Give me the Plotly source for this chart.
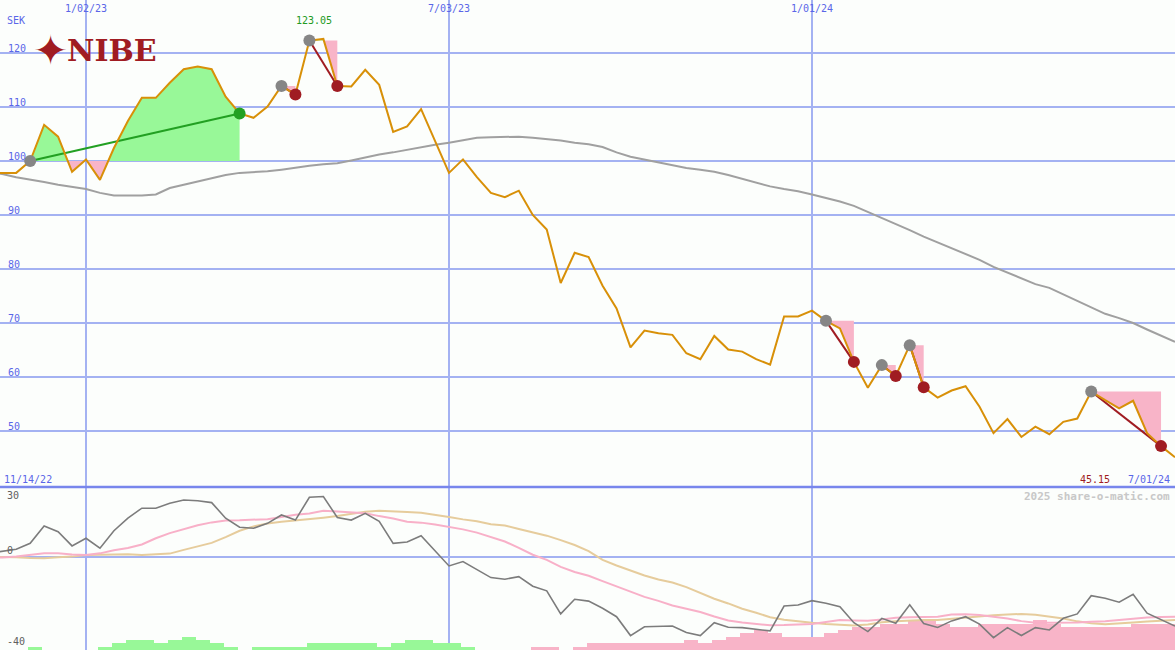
import plotly.graph_objects as go
import pandas as pd

# ---------------- data ----------------
dates = pd.date_range("2022-11-14", periods=86, freq="7D")

price = [97.8, 97.8, 97.8, 100.0, 106.7, 104.5, 98.0, 100.3, 96.5, 102.4,
         107.4, 111.7, 111.7, 114.5, 117.0, 117.5, 117.0, 111.9, 108.8, 108.0,
         110.1, 113.9, 112.3, 122.3, 122.6, 113.9, 113.8, 116.9, 114.1, 105.4,
         106.4, 109.6, 103.8, 97.8, 100.3, 97.0, 94.1, 93.3, 94.5, 90.0,
         87.3, 77.4, 83.0, 82.2, 76.9, 72.7, 65.5, 68.6, 68.1, 67.8,
         64.4, 63.3, 67.6, 65.1, 64.7, 63.3, 62.3, 71.2, 71.2, 72.3,
         70.4, 69.0, 62.8, 58.0, 62.2, 60.2, 65.9, 58.1, 56.2, 57.5,
         58.3, 54.5, 49.6, 52.2, 48.9, 50.8, 49.4, 51.7, 52.3, 57.3,
         55.7, 54.2, 55.6, 49.6, 47.2, 45.15]

ma_long = [97.8, 97.6, 97.0, 96.6, 96.1, 95.6, 95.2, 94.8, 94.1, 93.6,
           93.6, 93.6, 93.8, 95.0, 95.6, 96.2, 96.7, 97.4, 97.8, 97.9,
           98.1, 98.4, 98.8, 99.1, 99.4, 99.6, 100.1, 100.7, 101.2, 101.6,
           102.1, 102.5, 103.0, 103.4, 103.9, 104.3, 104.4, 104.5, 104.5, 104.3,
           104.1, 103.8, 103.4, 103.1, 102.6, 101.6, 100.8, 100.3, 99.8, 99.2,
           98.7, 98.4, 98.0, 97.4, 96.7, 96.0, 95.3, 94.8, 94.4, 93.8,
           93.2, 92.5, 91.7, 90.6, 89.5, 88.4, 87.2, 86.0, 84.9, 83.8,
           82.8, 81.7, 80.4, 79.3, 78.2, 77.2, 76.5, 75.3, 74.2, 72.9,
           71.7, 70.9, 70.0, 68.8, 67.7, 66.5]

osc = [1.5, 2.3, 3.3, 5.8, 13.3, 10.8, 4.7, 8.0, 3.7, 11.2,
       16.6, 20.9, 20.9, 23.0, 24.4, 24.1, 23.3, 16.6, 12.7, 12.3,
       14.4, 18.0, 15.8, 25.6, 25.9, 16.9, 15.8, 18.7, 15.3, 5.8,
       6.4, 9.1, 2.7, -3.9, -2.0, -5.3, -8.9, -9.6, -8.5, -12.6,
       -14.6, -24.5, -18.2, -19.0, -22.1, -25.7, -33.8, -30.0, -29.8, -29.7,
       -32.5, -33.8, -28.3, -30.2, -30.4, -31.1, -31.8, -21.1, -20.7, -18.8,
       -19.9, -21.4, -28.3, -32.1, -26.4, -28.5, -20.6, -28.6, -30.3, -27.5,
       -25.7, -28.9, -34.7, -30.4, -33.8, -30.4, -31.4, -26.4, -24.5, -16.7,
       -17.8, -19.5, -16.1, -24.2, -27.1, -29.7]

osc_fast = [-0.3, -0.3, 0.2, 0.7, 1.5, 1.6, 1.0, 0.8, 1.5, 2.8,
            3.8, 5.3, 8.0, 10.2, 11.9, 13.6, 14.8, 15.6, 15.7, 15.8,
            16.2, 17.1, 18.1, 18.6, 19.8, 19.5, 19.0, 18.7, 17.5, 16.5,
            15.1, 14.7, 13.9, 13.0, 11.8, 10.4, 8.5, 6.6, 3.9, 0.9,
            -1.3, -4.3, -6.5, -8.1, -10.4, -12.6, -14.7, -17.2, -18.9, -20.9,
            -22.3, -23.7, -25.6, -27.3, -28.2, -28.8, -29.4, -29.3, -29.1, -28.8,
            -28.0, -27.1, -27.3, -27.4, -26.9, -26.2, -25.9, -25.7, -25.7, -24.8,
            -24.6, -25.0, -25.7, -26.5, -27.6, -28.3, -28.3, -28.3, -28.2, -27.9,
            -27.7, -27.1, -26.4, -26.0, -25.8, -25.7]

osc_slow = [0.1, 0.1, -0.2, -0.5, -0.6, -0.2, 0.1, 0.8, 1.0, 1.2,
            1.1, 0.8, 1.0, 1.4, 3.0, 4.5, 6.0, 8.5, 11.2, 13.1,
            14.3, 15.1, 15.6, 16.0, 16.8, 17.5, 18.5, 19.4, 19.8, 19.7,
            19.3, 18.9, 18.1, 17.1, 16.1, 15.3, 14.0, 13.5, 12.0, 10.6,
            9.1, 7.2, 5.1, 2.5, -1.3, -3.7, -6.0, -8.0, -9.7, -11.0,
            -13.0, -15.6, -18.0, -20.0, -22.3, -24.0, -25.9, -27.0, -27.8, -28.3,
            -28.8, -29.2, -29.5, -29.0, -28.1, -27.6, -27.2, -27.1, -27.1, -26.6,
            -25.9, -25.4, -25.1, -24.8, -24.5, -24.9, -25.6, -26.5, -27.7, -28.5,
            -28.9, -28.7, -28.2, -27.8, -27.4, -27.1]

bar_level = [0, 0, 0, 1, 0, 0, 0, 0, 1, 2,
             3, 3, 2, 3, 4, 3, 2, 1, 0, 1,
             1, 1, 1, 2, 2, 2, 2, 2, 1, 2,
             3, 3, 2, 2, 1, 0, 0, 0, 0, -1,
             -1, 0, -1, -2, -2, -2, -2, -2, -2, -2,
             -3, -2, -3, -4, -5, -6, -5, -4, -4, -4,
             -5, -6, -7, -7, -8, -8, -9, -9, -8, -7,
             -7, -8, -8, -8, -8, -9, -8, -7, -7, -7,
             -7, -7, -8, -8, -8, -8]

# trades: (entry week index, exit week index)
trades = [(3, 18), (21, 22), (23, 25), (60, 62), (64, 65), (66, 67), (79, 84)]

price_ticks = [50, 60, 70, 80, 90, 100, 110, 120]
date_ticks = ["2023-01-02", "2023-07-03", "2024-01-01"]
date_tick_text = ["1/02/23", "7/03/23", "1/01/24"]
max_label = "123.05"
last_label = "45.15"
start_label = "11/14/22"
end_label = "7/01/24"

# ---------------- style ----------------
W, H = 1175, 650
SEP = 487  # pixel row of panel separator
BG = "#fcfefc"
GRID = "#a4b2f2"
BLUE_TXT = "#5a66e8"
PRICE_C = "#d89008"
MA_C = "#a0a0a0"
GREEN_FILL = "#98f898"
PINK_FILL = "#f8b4c8"
RED = "#a01c22"
GREEN = "#22a022"
MONO = "DejaVu Sans Mono"
BAR_STEP = 1.42
DAY = 86400000


def py(p):
    return 1 - p / H


def pxx(p):
    return p / W


fig = go.Figure()

# ---- trade fills ----
def trade_polys(i0, i1):
    E = price[i0]
    ts, ps = [], []
    for i in range(i0, i1 + 1):
        if i > i0:
            a, b = price[i - 1], price[i]
            if (a - E) * (b - E) < 0:
                f = (E - a) / (b - a)
                ts.append(dates[i - 1] + (dates[i] - dates[i - 1]) * f)
                ps.append(E)
        ts.append(dates[i])
        ps.append(price[i])
    up = [max(p, E) for p in ps]
    lo = [min(p, E) for p in ps]
    xs = list(ts) + [ts[-1], ts[0]]
    return xs, up + [E, E], lo + [E, E]


for i0, i1 in trades:
    xs, yu, yl = trade_polys(i0, i1)
    fig.add_trace(go.Scatter(x=xs, y=yu, fill="toself", fillcolor=GREEN_FILL,
                             line=dict(width=0), mode="lines", hoverinfo="skip",
                             showlegend=False, xaxis="x", yaxis="y"))
    fig.add_trace(go.Scatter(x=xs, y=yl, fill="toself", fillcolor=PINK_FILL,
                             line=dict(width=0), mode="lines", hoverinfo="skip",
                             showlegend=False, xaxis="x", yaxis="y"))

# long moving average
fig.add_trace(go.Scatter(x=dates, y=ma_long, mode="lines",
                         line=dict(color=MA_C, width=2), showlegend=False,
                         xaxis="x", yaxis="y"))

# trade lines
for i0, i1 in trades:
    col = GREEN if price[i1] > price[i0] else RED
    fig.add_trace(go.Scatter(x=[dates[i0], dates[i1]], y=[price[i0], price[i1]],
                             mode="lines", line=dict(color=col, width=2),
                             showlegend=False, xaxis="x", yaxis="y"))

# price
fig.add_trace(go.Scatter(x=dates, y=price, mode="lines",
                         line=dict(color=PRICE_C, width=2), showlegend=False,
                         xaxis="x", yaxis="y"))

# markers
fig.add_trace(go.Scatter(x=[dates[a] for a, b in trades], y=[price[a] for a, b in trades],
                         mode="markers", marker=dict(color="#868686", size=12),
                         showlegend=False, xaxis="x", yaxis="y"))
fig.add_trace(go.Scatter(x=[dates[b] for a, b in trades], y=[price[b] for a, b in trades],
                         mode="markers",
                         marker=dict(color=[GREEN if price[b] > price[a] else RED for a, b in trades],
                                     size=12),
                         showlegend=False, xaxis="x", yaxis="y"))

# ---- lower panel ----
fig.add_trace(go.Bar(x=dates, y=[abs(v) * BAR_STEP for v in bar_level], base=-40,
                     marker=dict(color=[GREEN_FILL if v > 0 else PINK_FILL for v in bar_level],
                                 line=dict(width=0)),
                     width=7 * DAY, offset=-DAY, showlegend=False,
                     xaxis="x2", yaxis="y2"))
fig.add_trace(go.Scatter(x=dates, y=osc_slow, mode="lines",
                         line=dict(color="#e6cc9c", width=2), showlegend=False,
                         xaxis="x2", yaxis="y2"))
fig.add_trace(go.Scatter(x=dates, y=osc_fast, mode="lines",
                         line=dict(color="#f8b0c8", width=2), showlegend=False,
                         xaxis="x2", yaxis="y2"))
fig.add_trace(go.Scatter(x=dates, y=osc, mode="lines",
                         line=dict(color="#7c7c7c", width=1.6), showlegend=False,
                         xaxis="x2", yaxis="y2"))

xrange = ["2022-11-19 21:00", "2024-07-01 00:00"]
ax = dict(type="date", range=xrange, showgrid=True, gridcolor=GRID, gridwidth=1.5,
          tickvals=date_ticks, showticklabels=False, zeroline=False, showline=False,
          ticks="")
top_dom = [py(SEP), 1]
fig.update_layout(
    width=W, height=H, margin=dict(l=0, r=0, t=0, b=0),
    paper_bgcolor=BG, plot_bgcolor=BG, showlegend=False, bargap=0,
    xaxis=dict(ax, anchor="y"),
    xaxis2=dict(ax, anchor="y2", matches="x"),
    yaxis=dict(domain=top_dom, range=[120 - (SEP - 53) / 5.4, 120 + 53 / 5.4],
               tickvals=price_ticks, showgrid=True, gridcolor=GRID, gridwidth=2,
               showticklabels=False, zeroline=False, ticks=""),
    yaxis2=dict(domain=[0, py(SEP)], range=[-40, 30], tickvals=[0], showgrid=True,
                gridcolor=GRID, gridwidth=2, showticklabels=False, zeroline=False,
                ticks=""),
)

shapes = []
# logo background
shapes.append(dict(type="rect", xref="paper", yref="paper", x0=pxx(34), x1=pxx(158),
                   y0=py(66), y1=py(35), fillcolor=BG, line=dict(width=0), layer="below"))
# separator
shapes.append(dict(type="line", xref="paper", yref="paper", x0=0, x1=1, y0=py(SEP), y1=py(SEP),
                   line=dict(color="#7886ec", width=2.5), layer="above"))
# logo emblem centre
shapes.append(dict(type="circle", xref="paper", yref="paper", x0=pxx(44.5), x1=pxx(55.5),
                   y0=py(56), y1=py(45), fillcolor=BG, line=dict(width=0), layer="above"))
shapes.append(dict(type="circle", xref="paper", yref="paper", x0=pxx(47), x1=pxx(53),
                   y0=py(53.5), y1=py(47.5), fillcolor=RED, line=dict(width=0), layer="above"))
fig.update_layout(shapes=shapes)

ann = []
f10 = dict(family=MONO, size=10, color=BLUE_TXT)
ann.append(dict(text="SEK", xref="paper", yref="paper", x=pxx(5), y=py(21), xanchor="left",
                yanchor="middle", showarrow=False, font=f10))
for v in price_ticks:
    ann.append(dict(text=str(v), xref="paper", yref="y", x=pxx(6), y=v, yshift=5,
                    xanchor="left", yanchor="middle", showarrow=False, font=f10))
for d, t in zip(date_ticks, date_tick_text):
    ann.append(dict(text=t, xref="x", yref="paper", x=d, y=py(9), xanchor="center",
                    yanchor="middle", showarrow=False, font=f10))
imax = max(range(len(price)), key=lambda i: price[i])
ann.append(dict(text=max_label, xref="x", yref="paper", x=dates[imax], y=py(21),
                xanchor="center", yanchor="middle", xshift=-9, showarrow=False,
                font=dict(family=MONO, size=10, color="#229a22")))
ann.append(dict(text=start_label, xref="paper", yref="paper", x=pxx(2), y=py(479),
                xanchor="left", yanchor="middle", showarrow=False, font=f10))
ann.append(dict(text=end_label, xref="paper", yref="paper", x=pxx(1172), y=py(479),
                xanchor="right", yanchor="middle", showarrow=False, font=f10))
ann.append(dict(text=last_label, xref="paper", yref="paper", x=pxx(1112), y=py(479),
                xanchor="right", yanchor="middle", showarrow=False,
                font=dict(family=MONO, size=10, color=RED)))
ann.append(dict(text="<b>2025 share-o-matic.com</b>", xref="paper", yref="paper",
                x=pxx(1172), y=py(496), xanchor="right", yanchor="middle", showarrow=False,
                font=dict(family=MONO, size=11, color="#c8c8c8")))
g10 = dict(family=MONO, size=10, color="#606060")
ann.append(dict(text="30", xref="paper", yref="paper", x=pxx(5), y=py(495.5), xanchor="left",
                yanchor="middle", showarrow=False, font=g10))
ann.append(dict(text="0", xref="paper", yref="paper", x=pxx(5), y=py(550), xanchor="left",
                yanchor="middle", showarrow=False, font=g10))
ann.append(dict(text="-40", xref="paper", yref="paper", x=pxx(5), y=py(641.5), xanchor="left",
                yanchor="middle", showarrow=False, font=g10))
# logo
ann.append(dict(text="✦", xref="paper", yref="paper", x=pxx(50), y=py(50.5), xanchor="center",
                yanchor="middle", showarrow=False,
                font=dict(family="DejaVu Sans", size=42, color=RED)))
ann.append(dict(text="<b>NIBE</b>", xref="paper", yref="paper", x=pxx(65), y=py(50.5),
                xanchor="left", yanchor="middle", showarrow=False,
                font=dict(family="DejaVu Serif", size=30, color=RED)))
fig.update_layout(annotations=ann)

fig.write_html("out.html", config={"displayModeBar": False},
               post_script="document.body.style.margin='0';document.body.style.overflow='hidden';")
